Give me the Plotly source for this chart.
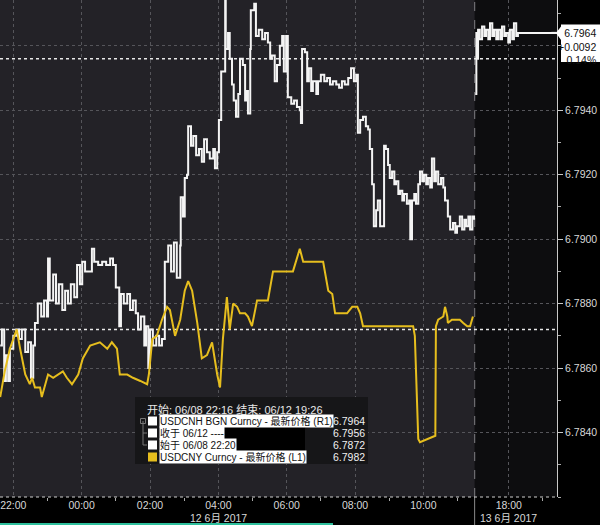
import plotly.graph_objects as go

# ---------------- data ----------------
CNH_S1_TIME = ["21:37","21:40","21:44","21:47","21:51","21:54","22:00","22:05","22:10","22:15",
 "22:21","22:26","22:31","22:35","22:38","22:43","22:49","22:54","22:59","23:01",
 "23:04","23:10","23:15","23:20","23:26","23:31","23:36","23:41","23:47","23:52",
 "23:57","00:01","00:06","00:13","00:18","00:22","00:29","00:36","00:43","00:50",
 "00:55","01:00","01:06","01:09","01:14","01:20","01:25","01:30","01:35","01:39",
 "01:44","01:50","01:53","01:57","02:00","02:05","02:11","02:16","02:21","02:26",
 "02:32","02:37","02:42","02:47","02:53","02:54","02:58","03:01","03:05","03:07",
 "03:12","03:16","03:21","03:26","03:31","03:35","03:40","03:45","03:51","03:54",
 "03:58","04:01","04:05","04:12","04:13","04:17","04:20","04:24","04:27","04:31",
 "04:35","04:38","04:43","04:47","04:50","04:52","04:56","04:57","05:03","05:06",
 "05:11","05:17","05:22","05:27","05:31","05:34","05:39","05:43","05:48","05:52",
 "05:55","05:59","06:02","06:08","06:13","06:18","06:23","06:25","06:27","06:32",
 "06:36","06:39","06:43","06:46","06:52","06:55","07:00","07:06","07:11","07:16",
 "07:21","07:27","07:32","07:37","07:42","07:48","07:53","07:58","08:02","08:05",
 "08:09","08:14","08:19","08:23","08:26","08:30","08:33","08:37","08:40","08:44",
 "08:47","08:51","08:54","08:58","09:01","09:05","09:09","09:12","09:16","09:19",
 "09:23","09:26","09:31","09:35","09:37","09:40","09:44","09:47","09:51","09:54",
 "09:58","10:01","10:05","10:08","10:12","10:15","10:19","10:22","10:26","10:31",
 "10:35","10:38","10:43","10:47","10:52","10:56","10:59","11:04","11:08","11:12",
 "11:15","11:19","11:22","11:26","11:29"]
CNH_S1_VAL = [6.7867,6.7872,6.7856,6.7864,6.7856,6.7866,6.7870,6.7872,6.7869,6.7872,
 6.7865,6.7868,6.7857,6.7867,6.7874,6.7880,6.7876,6.7881,6.7876,6.7894,
 6.7881,6.7889,6.7880,6.7886,6.7878,6.7884,6.7880,6.7886,6.7882,6.7892,
 6.7886,6.7893,6.7890,6.7890,6.7897,6.7893,6.7892,6.7893,6.7892,6.7894,
 6.7892,6.7885,6.7873,6.7883,6.7880,6.7883,6.7878,6.7881,6.7877,6.7872,
 6.7876,6.7867,6.7873,6.7860,6.7872,6.7867,6.7870,6.7867,6.7869,6.7893,
 6.7898,6.7890,6.7899,6.7888,6.7898,6.7913,6.7907,6.7919,6.7920,6.7935,
 6.7929,6.7932,6.7926,6.7928,6.7924,6.7931,6.7927,6.7925,6.7928,6.7922,
 6.7927,6.7937,6.7952,6.7974,6.7959,6.7964,6.7956,6.7948,6.7943,6.7938,
 6.7945,6.7956,6.7954,6.7943,6.7946,6.7939,6.7959,6.7971,6.7973,6.7963,
 6.7965,6.7962,6.7964,6.7961,6.7956,6.7957,6.7949,6.7954,6.7960,6.7963,
 6.7952,6.7963,6.7944,6.7942,6.7943,6.7941,6.7940,6.7936,6.7959,6.7958,
 6.7949,6.7953,6.7946,6.7949,6.7945,6.7949,6.7951,6.7949,6.7950,6.7948,
 6.7949,6.7948,6.7947,6.7949,6.7948,6.7950,6.7953,6.7949,6.7951,6.7933,
 6.7937,6.7938,6.7935,6.7934,6.7928,6.7917,6.7904,6.7909,6.7912,6.7904,
 6.7904,6.7929,6.7928,6.7923,6.7919,6.7921,6.7917,6.7918,6.7914,6.7915,
 6.7912,6.7914,6.7911,6.7912,6.7900,6.7912,6.7914,6.7911,6.7917,6.7921,
 6.7918,6.7920,6.7917,6.7919,6.7916,6.7925,6.7918,6.7921,6.7917,6.7919,
 6.7916,6.7912,6.7907,6.7903,6.7905,6.7902,6.7904,6.7907,6.7903,6.7906,
 6.7904,6.7907,6.7903,6.7907,6.7906]

CNH_S2_TIME = ["17:01","17:03","17:04","17:06","17:09","17:13","17:17","17:20","17:24","17:27",
 "17:31","17:34","17:38","17:41","17:45","17:48","17:52","17:55","17:59","18:02",
 "18:06","18:09","18:13","18:16","18:20","19:26"]
CNH_S2_VAL = [6.7945,6.7964,6.7956,6.7965,6.7962,6.7966,6.7963,6.7965,6.7962,6.7967,
 6.7963,6.7965,6.7962,6.7965,6.7962,6.7966,6.7963,6.7964,6.7961,6.7965,
 6.7962,6.7967,6.7963,6.7964,6.7964,6.7964]

CNY_TIME = ["21:37","21:45","21:54","22:03","22:06","22:12","22:21","22:29","22:33","22:38",
 "22:47","22:50","23:01","23:10","23:18","23:27","23:34","23:43","23:54","00:02",
 "00:15","00:32","00:45","00:53","01:02","01:07","01:20","01:30","01:43","01:55",
 "01:58","02:04","02:12","02:21","02:30","02:35","02:44","02:53","03:01","03:07",
 "03:14","03:23","03:31","03:40","03:49","03:58","04:03","04:08","04:15","04:20",
 "04:26","04:33","04:38","04:47","04:52","04:59","05:08","05:27","05:36","06:11",
 "06:23","06:29","07:04","07:13","07:20","07:25","07:46","07:55","08:04","08:09",
 "08:14","09:42","09:45","09:51","09:54","10:21","10:22","10:26","10:35","10:38",
 "10:42","10:43","10:50","11:04","11:10","11:17","11:22","11:26","11:27"]
CNY_VAL = [6.7957,6.7965,6.7972,6.7977,6.7978,6.7972,6.7964,6.7961,6.7963,6.7960,
 6.7960,6.7957,6.7964,6.7963,6.7964,6.7965,6.7963,6.7961,6.7964,6.7969,
 6.7973,6.7974,6.7972,6.7974,6.7972,6.7964,6.7964,6.7963,6.7962,6.7961,
 6.7964,6.7975,6.7976,6.7981,6.7985,6.7984,6.7976,6.7981,6.7990,6.7993,
 6.7990,6.7980,6.7969,6.7970,6.7974,6.7964,6.7960,6.7975,6.7988,6.7978,
 6.7986,6.7985,6.7983,6.7983,6.7982,6.7979,6.7987,6.7987,6.7996,6.7996,
 6.8003,6.7999,6.7999,6.7990,6.7989,6.7983,6.7983,6.7985,6.7985,6.7983,
 6.7979,6.7979,6.7976,6.7944,6.7943,6.7945,6.7979,6.7981,6.7982,6.7985,
 6.7982,6.7980,6.7981,6.7981,6.7980,6.7979,6.7979,6.7982,6.7982]

PREV_CLOSE = 6.7956      # 收于 06/12
START_PRICE = 6.7872     # 始于 06/08 22:20
LAST_CNH = 6.7964
LAST_CNY = 6.7982

X_TICK_TIMES = ["22:00","00:00","02:00","04:00","06:00","08:00","10:00","18:00"]
X_MINOR_TIMES = ["23:00","01:00","03:00","05:00","07:00","09:00","11:00","19:00"]
DATE_LABELS = [("04:00", "12 6月 2017"), ("18:00", "13 6月 2017")]
Y_TICKS = [6.7840, 6.7860, 6.7880, 6.7900, 6.7920, 6.7940, 6.7960]
Y_MINOR = [6.7820, 6.7830, 6.7850, 6.7870, 6.7890, 6.7910, 6.7930, 6.7950, 6.7970]
SESSION_BREAK = "17:00"

LEG_TITLE = "开始: 06/08 22:16 结束: 06/12 19:26"
LEG_ROWS = ["USDCNH BGN Curncy - 最新价格 (R1)", "收于 06/12 ----", "始于 06/08 22:20",
            "USDCNY Curncy - 最新价格 (L1)"]
LEG_VALUES = ["6.7964", "6.7956", "6.7872", "6.7982"]


def to_x(t):
    h, m = map(int, t.split(":"))
    mins = h * 60 + m
    if mins >= 21 * 60:
        return (mins - 22 * 60) / 60
    if mins < 12 * 60:
        return (mins + 120) / 60
    return 13.5 + (mins - 17 * 60) / 60


W, H = 600, 525
ML, MR, MT, MB = 0, 43, 0, 28
PW, PH = W - ML - MR, H - MT - MB


def px(x):
    return (x - ML) / PW


def py(y):
    return 1 - (y - MT) / PH


FONT = "Liberation Sans, Noto Sans CJK SC, sans-serif"
WHITE = "#f4f4f4"
YELLOW = "#e6be1e"

fig = go.Figure()
fig.add_trace(go.Scatter(x=[to_x(t) for t in CNH_S1_TIME], y=CNH_S1_VAL, mode="lines",
                         line=dict(color=WHITE, width=2, shape="hv"), yaxis="y"))
fig.add_trace(go.Scatter(x=[to_x(t) for t in CNH_S2_TIME], y=CNH_S2_VAL, mode="lines",
                         line=dict(color=WHITE, width=2, shape="hv"), yaxis="y"))
fig.add_trace(go.Scatter(x=[to_x(t) for t in CNY_TIME], y=CNY_VAL, mode="lines",
                         line=dict(color=YELLOW, width=2), yaxis="y2"))

xb = to_x(SESSION_BREAK)
shapes = [
    dict(type="rect", xref="x", yref="paper", x0=xb, x1=20, y0=0, y1=1,
         fillcolor="#0d0d0f", line=dict(width=0), layer="below"),
    dict(type="line", xref="x", yref="paper", x0=xb, x1=xb, y0=0, y1=1,
         line=dict(color="#6e6e72", width=1.2, dash="dash"), layer="below"),
    dict(type="line", xref="x", yref="paper", x0=xb, x1=xb, y0=py(525), y1=0,
         line=dict(color="#8a8a8a", width=1)),
    dict(type="line", xref="paper", yref="y", x0=0, x1=1, y0=PREV_CLOSE, y1=PREV_CLOSE,
         line=dict(color="#e8e8e8", width=1.5, dash="dot"), layer="below"),
    dict(type="line", xref="paper", yref="y", x0=0, x1=1, y0=START_PRICE, y1=START_PRICE,
         line=dict(color="#e8e8e8", width=1.5, dash="dot"), layer="below"),
    dict(type="line", xref="paper", yref="paper", x0=0, x1=1, y0=0, y1=0,
         line=dict(color="#cfcfcf", width=1, dash="dot")),
    dict(type="rect", xref="paper", yref="paper", x0=0, x1=px(333), y0=py(525.5), y1=py(523),
         fillcolor="#2dbf9c", line=dict(width=0)),
    dict(type="rect", xref="paper", yref="paper", x0=px(135), x1=px(368), y0=py(464), y1=py(397),
         fillcolor="#161618", line=dict(width=0), layer="above"),
    dict(type="rect", xref="paper", yref="paper", x0=px(222), x1=px(305), y0=py(439), y1=py(427),
         fillcolor="#000000", line=dict(width=0), layer="above"),
    dict(type="rect", xref="paper", yref="paper", x0=px(228), x1=px(305), y0=py(451), y1=py(439),
         fillcolor="#000000", line=dict(width=0), layer="above"),
    dict(type="path", xref="paper", yref="paper",
         path=f"M {px(143)} {py(421)} L {px(143)} {py(445)} M {px(143)} {py(433)} L {px(147)} {py(433)} "
              f"M {px(143)} {py(445)} L {px(147)} {py(445)}",
         line=dict(color="#777777", width=1), layer="above"),
    dict(type="rect", xref="paper", yref="paper", x0=px(140.5), x1=px(145.5), y0=py(423.5), y1=py(418.5),
         line=dict(color="#777777", width=1), fillcolor="rgba(0,0,0,0)", layer="above"),
]
row_y = [421, 433, 445, 457]
sq_colors = ["#ffffff", "#ffffff", "#ffffff", YELLOW]
for ry, c in zip(row_y, sq_colors):
    shapes.append(dict(type="rect", xref="paper", yref="paper", x0=px(148), x1=px(157),
                       y0=py(ry + 4.5), y1=py(ry - 4.5), fillcolor=c, line=dict(width=0), layer="above"))

d_up, d_dn, d_tip = 0.00026, 0.00090, 0.00022
tag_path = (f"M {px(561)} {LAST_CNH + d_up} L {px(600)} {LAST_CNH + d_up} L {px(600)} {LAST_CNH - d_dn} "
            f"L {px(561)} {LAST_CNH - d_dn} L {px(561)} {LAST_CNH - d_tip} L {px(556)} {LAST_CNH} "
            f"L {px(561)} {LAST_CNH + d_tip * 0.9} Z")
shapes.append(dict(type="path", xref="paper", yref="y", path=tag_path,
                   fillcolor="#ffffff", line=dict(width=0), layer="above"))
shapes.append(dict(type="line", xref="paper", yref="y", x0=0.99, x1=px(557), y0=LAST_CNH, y1=LAST_CNH,
                   line=dict(color=WHITE, width=2)))

chg = LAST_CNH - START_PRICE
pct = chg / START_PRICE * 100
annotations = [
    dict(text=f"{LAST_CNH:.4f}<br>{chg:+.4f}<br>{pct:.2f}%", xref="paper", yref="y",
         x=px(598), y=LAST_CNH + d_up, xanchor="right", yanchor="top", align="right",
         showarrow=False, font=dict(family=FONT, size=10.5, color="#111111")),
    dict(text=LEG_TITLE, xref="paper", yref="paper", x=px(145), y=py(409), xanchor="left",
         yanchor="middle", showarrow=False, font=dict(family=FONT, size=11, color="#e8e8e8")),
]
for ry, label, val in zip(row_y, LEG_ROWS, LEG_VALUES):
    annotations.append(dict(text=label, xref="paper", yref="paper", x=px(159), y=py(ry),
                            xanchor="left", yanchor="middle", showarrow=False, bgcolor="#ffffff",
                            borderpad=0, font=dict(family=FONT, size=10, color="#111111")))
    annotations.append(dict(text=val, xref="paper", yref="paper", x=px(367), y=py(ry),
                            xanchor="right", yanchor="middle", showarrow=False,
                            font=dict(family=FONT, size=10.5, color="#f0f0f0")))
for t, txt in DATE_LABELS:
    annotations.append(dict(text=txt, xref="x", yref="paper", x=to_x(t), y=py(518),
                            xanchor="center", yanchor="middle", showarrow=False,
                            font=dict(family=FONT, size=10.5, color="#d8d8d8")))

fig.update_layout(
    width=W, height=H, autosize=False,
    margin=dict(l=ML, r=MR, t=MT, b=MB, pad=0),
    paper_bgcolor="#000000", plot_bgcolor="#232227",
    showlegend=False,
    shapes=shapes, annotations=annotations,
    xaxis=dict(range=[to_x("21:37") - 0.006, 15.91], showgrid=True, gridcolor="#55555a",
               griddash="dot", gridwidth=1, zeroline=False, showline=False,
               tickmode="array", tickvals=[to_x(t) for t in X_TICK_TIMES], ticktext=X_TICK_TIMES,
               ticks="", tickfont=dict(family=FONT, size=10.5, color="#d8d8d8"),
               minor=dict(tickmode="array", tickvals=[to_x(t) for t in X_MINOR_TIMES],
                          ticks="outside", ticklen=3, tickcolor="#aaaaaa", showgrid=False),
               automargin=False, fixedrange=True),
    yaxis=dict(range=[6.7820, 6.79742], side="right", showgrid=True, gridcolor="#55555a",
               griddash="dot", gridwidth=1, zeroline=False,
               showline=True, linecolor="#c8c8c8", linewidth=1,
               tickmode="array", tickvals=Y_TICKS,
               ticktext=[f"{v:.4f}" if v < 6.795 else "" for v in Y_TICKS],
               ticks="outside", ticklen=5, tickcolor="#c8c8c8",
               tickfont=dict(family=FONT, size=10.5, color="#d8d8d8"),
               minor=dict(tickmode="array", tickvals=Y_MINOR, ticks="outside", ticklen=3,
                          tickcolor="#aaaaaa", showgrid=False),
               automargin=False),
    yaxis2=dict(range=[6.7926, 6.80802], overlaying="y", side="left", visible=False,
                showgrid=False, zeroline=False),
)

fig.write_html("out.html", config={"displayModeBar": False},
               post_script="document.body.style.margin='0';document.body.style.background='#000';")
